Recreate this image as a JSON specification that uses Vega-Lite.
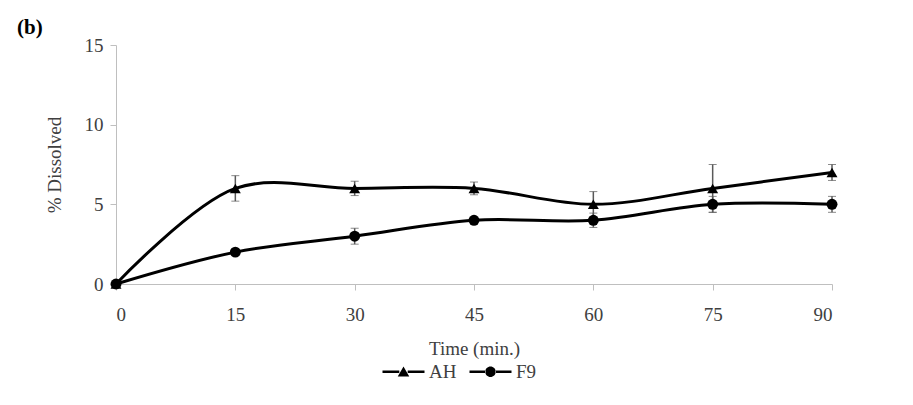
{
  "$schema": "https://vega.github.io/schema/vega-lite/v6.json",
  "width": 716,
  "height": 239,
  "autosize": {"type": "none"},
  "padding": {"left": 116, "top": 45, "right": 81, "bottom": 121},
  "background": "white",
  "config": {
    "view": {"stroke": null},
    "font": "Liberation Serif",
    "axis": {
      "grid": false,
      "domainColor": "#BFBFBF",
      "tickColor": "#BFBFBF",
      "tickSize": 6,
      "labelFont": "Liberation Serif",
      "labelFontSize": 19,
      "labelColor": "#404040",
      "titleFont": "Liberation Serif",
      "titleFontSize": 19,
      "titleFontWeight": "normal",
      "titleColor": "#404040"
    }
  },
  "title": {
    "text": "(b)",
    "anchor": "start",
    "frame": "group",
    "font": "Liberation Serif",
    "fontSize": 21,
    "fontWeight": "bold",
    "color": "black",
    "dx": -99,
    "offset": -2
  },
  "data": {
    "values": [
      {"t": 0, "v": 0, "err": 0, "series": "AH"},
      {"t": 15, "v": 6, "err": 0.8, "series": "AH"},
      {"t": 30, "v": 6, "err": 0.45, "series": "AH"},
      {"t": 45, "v": 6, "err": 0.4, "series": "AH"},
      {"t": 60, "v": 5, "err": 0.8, "series": "AH"},
      {"t": 75, "v": 6, "err": 1.5, "series": "AH"},
      {"t": 90, "v": 7, "err": 0.5, "series": "AH"},
      {"t": 0, "v": 0, "err": 0, "series": "F9"},
      {"t": 15, "v": 2, "err": 0, "series": "F9"},
      {"t": 30, "v": 3, "err": 0.5, "series": "F9"},
      {"t": 45, "v": 4, "err": 0, "series": "F9"},
      {"t": 60, "v": 4, "err": 0.45, "series": "F9"},
      {"t": 75, "v": 5, "err": 0.5, "series": "F9"},
      {"t": 90, "v": 5, "err": 0.5, "series": "F9"}
    ]
  },
  "encoding": {
    "x": {
      "field": "t",
      "type": "quantitative",
      "scale": {"domain": [0, 90], "nice": false, "zero": false},
      "axis": {"values": [0, 15, 30, 45, 60, 75, 90], "title": "Time (min.)", "labelPadding": 15, "titlePadding": 15}
    },
    "y": {
      "field": "v",
      "type": "quantitative",
      "scale": {"domain": [0, 15], "nice": false},
      "axis": {"values": [0, 5, 10, 15], "title": "% Dissolved", "labelPadding": 7, "titlePadding": 20}
    }
  },
  "resolve": {"scale": {"shape": "independent"}},
  "layer": [
    {
      "transform": [{"filter": "datum.err > 0"}],
      "mark": {
        "type": "errorbar",
        "ticks": {"size": 8, "color": "#595959", "strokeWidth": 1.5},
        "rule": {"color": "#595959", "strokeWidth": 1.5}
      },
      "encoding": {
        "yError": {"field": "err"},
        "detail": {"field": "series"}
      }
    },
    {
      "mark": {"type": "line", "color": "black", "strokeWidth": 3, "interpolate": "catmull-rom"},
      "encoding": {"detail": {"field": "series"}}
    },
    {
      "mark": {"type": "point", "filled": true, "color": "black", "opacity": 1, "size": 120},
      "encoding": {
        "shape": {
          "field": "series",
          "type": "nominal",
          "scale": {"domain": ["AH", "F9"], "range": ["triangle-up", "circle"]},
          "legend": null
        }
      }
    },
    {
      "mark": {"type": "point", "filled": true, "color": "black", "opacity": 0, "size": 441},
      "encoding": {
        "shape": {
          "field": "series",
          "type": "nominal",
          "scale": {
            "domain": ["AH", "F9"],
            "range": [
              "M-2,-0.13H-0.4V0.13H-2Z M0.4,-0.13H2V0.13H0.4Z M-0.55,0.45L0,-0.5L0.55,0.45Z",
              "M-2,-0.13H-0.45V0.13H-2Z M0.45,-0.13H2V0.13H0.45Z M-0.5,0A0.5,0.5 0 1,0 0.5,0A0.5,0.5 0 1,0 -0.5,0Z"
            ]
          },
          "legend": {
            "orient": "none",
            "legendX": 277,
            "legendY": 316,
            "direction": "horizontal",
            "title": null,
            "labelFont": "Liberation Serif",
            "labelFontSize": 19,
            "labelColor": "#404040",
            "symbolSize": 441,
            "symbolOpacity": 1,
            "symbolFillColor": "black",
            "symbolStrokeColor": "black",
            "symbolStrokeWidth": 0,
            "labelOffset": 15,
            "columnPadding": 12
          }
        }
      }
    }
  ]
}
